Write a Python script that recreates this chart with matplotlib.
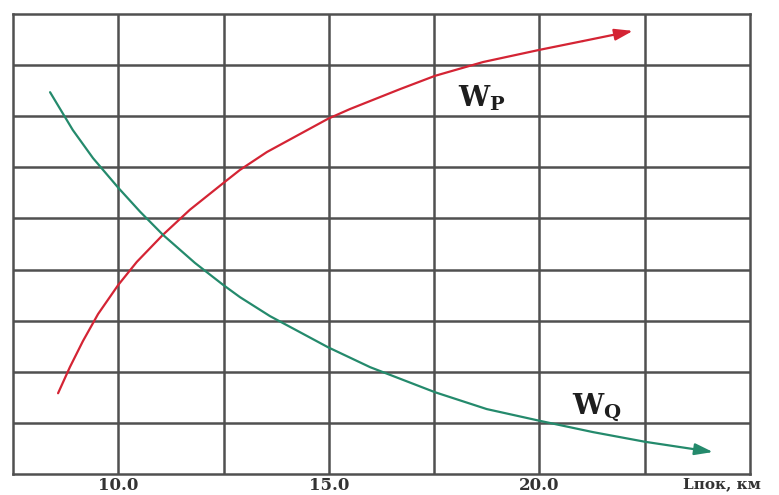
import matplotlib.pyplot as plt

plt.rcParams['mathtext.fontset'] = 'dejavuserif'

# curve values
wp_x = [8.57, 8.85, 9.16, 9.52, 10.0, 10.44, 11.06, 11.70, 12.49, 12.89, 13.53, 14.98, 15.50,
        16.69, 17.52, 18.66, 20.01, 21.03, 22.22]
wp_y = [1.58, 2.09, 2.60, 3.13, 3.70, 4.15, 4.68, 5.17, 5.69, 5.95, 6.30, 6.95, 7.14,
        7.53, 7.79, 8.06, 8.30, 8.47, 8.67]
wq_x = [8.38, 8.92, 9.40, 10.0, 10.52, 11.06, 11.82, 12.49, 12.89, 13.60, 14.98, 15.98,
        17.52, 18.75, 20.01, 21.27, 22.51, 24.12]
wq_y = [7.47, 6.73, 6.18, 5.60, 5.13, 4.68, 4.13, 3.70, 3.46, 3.09, 2.48, 2.09,
        1.60, 1.27, 1.04, 0.82, 0.63, 0.43]
xticks = [10.0, 15.0, 20.0]
xtick_labels = ['10.0', '15.0', '20.0']

fig = plt.figure(figsize=(7.79, 4.95), dpi=100)
ax = fig.add_axes([13 / 779, 21 / 495, 737 / 779, 460 / 495])
ax.set_xlim(7.5, 25.0)
ax.set_ylim(0, 9)

grid_c = '#505050'
for x in [7.5 + 2.5 * i for i in range(1, 7)]:
    ax.axvline(x, color=grid_c, lw=1.8, zorder=1)
for y in range(1, 9):
    ax.axhline(y, color=grid_c, lw=1.8, zorder=1)
for s in ax.spines.values():
    s.set_color(grid_c)
    s.set_linewidth(1.8)

red = '#d42434'
green = '#248a6c'
arrow = '-|>,head_length=1.1,head_width=0.35'
ax.plot(wp_x[:-1], wp_y[:-1], color=red, lw=1.6, zorder=3, solid_capstyle='round', solid_joinstyle='round')
ax.annotate('', xy=(wp_x[-1], wp_y[-1]), xytext=(wp_x[-2], wp_y[-2]),
            arrowprops=dict(arrowstyle=arrow, color=red, lw=1.6, shrinkA=0, shrinkB=0), zorder=3)
ax.plot(wq_x[:-1], wq_y[:-1], color=green, lw=1.6, zorder=3, solid_capstyle='round', solid_joinstyle='round')
ax.annotate('', xy=(wq_x[-1], wq_y[-1]), xytext=(wq_x[-2], wq_y[-2]),
            arrowprops=dict(arrowstyle=arrow, color=green, lw=1.6, shrinkA=0, shrinkB=0), zorder=3)

ax.text(18.07, 7.19, r'$\mathbf{W_P}$', fontsize=20, color='#1e1e1e', va='baseline', ha='left')
ax.text(20.77, 1.16, r'$\mathbf{W_Q}$', fontsize=20, color='#1e1e1e', va='baseline', ha='left')

ax.set_xticks(xticks)
ax.set_xticklabels(xtick_labels, fontsize=12, fontweight='bold', family='DejaVu Serif', color='#333333')
ax.tick_params(axis='x', length=0, pad=2)
ax.set_yticks([])
ax.text(23.4, -0.022, 'Lпок, км', fontsize=11, fontweight='bold', family='DejaVu Serif',
        color='#333333', va='center', ha='left', transform=ax.get_xaxis_transform(), clip_on=False)

fig.savefig('out.png', dpi=100)
